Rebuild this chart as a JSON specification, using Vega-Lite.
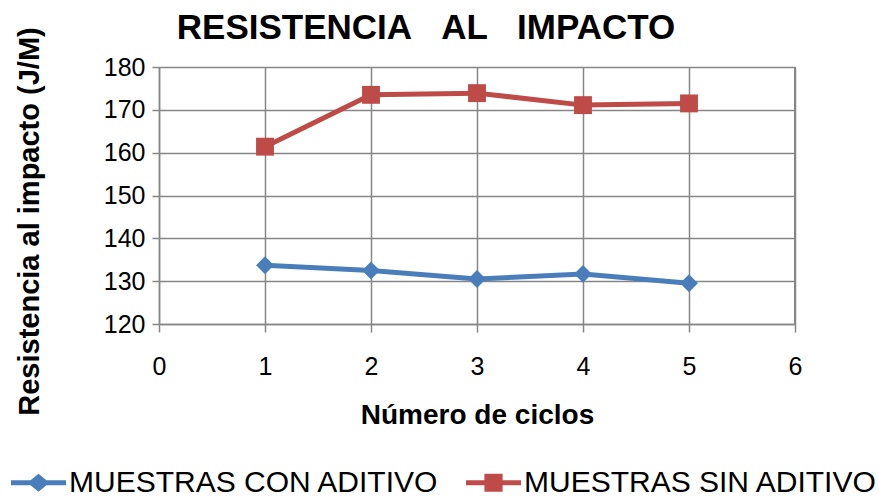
{
  "$schema": "https://vega.github.io/schema/vega-lite/v6.json",
  "width": 636,
  "height": 257,
  "autosize": {"type": "none"},
  "padding": {"left": 159, "top": 67, "right": 84, "bottom": 173},
  "background": "white",
  "config": {
    "font": "Liberation Sans",
    "view": {"stroke": null}
  },
  "title": {
    "text": "RESISTENCIA\u00a0\u00a0\u00a0AL\u00a0\u00a0\u00a0IMPACTO",
    "fontSize": 35,
    "fontWeight": "bold",
    "color": "#000000",
    "anchor": "middle",
    "dx": -51,
    "dy": 32,
    "offset": 13,
    "font": "Liberation Sans"
  },
  "data": {
    "values": [
      {"ciclo": 1, "serie": "MUESTRAS CON ADITIVO", "valor": 133.7},
      {"ciclo": 2, "serie": "MUESTRAS CON ADITIVO", "valor": 132.5},
      {"ciclo": 3, "serie": "MUESTRAS CON ADITIVO", "valor": 130.5},
      {"ciclo": 4, "serie": "MUESTRAS CON ADITIVO", "valor": 131.7},
      {"ciclo": 5, "serie": "MUESTRAS CON ADITIVO", "valor": 129.5},
      {"ciclo": 1, "serie": "MUESTRAS SIN ADITIVO", "valor": 161.4},
      {"ciclo": 2, "serie": "MUESTRAS SIN ADITIVO", "valor": 173.5},
      {"ciclo": 3, "serie": "MUESTRAS SIN ADITIVO", "valor": 173.9},
      {"ciclo": 4, "serie": "MUESTRAS SIN ADITIVO", "valor": 171.1},
      {"ciclo": 5, "serie": "MUESTRAS SIN ADITIVO", "valor": 171.5}
    ]
  },
  "encoding": {
    "x": {
      "field": "ciclo",
      "type": "quantitative",
      "scale": {"domain": [0, 6], "nice": false},
      "axis": {
        "values": [0, 1, 2, 3, 4, 5, 6],
        "labelFlush": false,
        "title": "Número de ciclos",
        "titleFontSize": 28,
        "titleFontWeight": "bold",
        "titleColor": "#000000",
        "titleX": 318,
        "titleY": 99,
        "titleBaseline": "alphabetic",
        "titleAlign": "center",
        "labelFontSize": 25,
        "labelColor": "#000000",
        "labelPadding": 22,
        "tickSize": 8,
        "tickColor": "#868686",
        "tickWidth": 1.5,
        "domainColor": "#868686",
        "domainWidth": 1.5,
        "gridColor": "#868686",
        "gridWidth": 1.5,
        "grid": true
      }
    },
    "y": {
      "field": "valor",
      "type": "quantitative",
      "scale": {"domain": [120, 180], "nice": false, "zero": false},
      "axis": {
        "values": [120, 130, 140, 150, 160, 170, 180],
        "labelFlush": false,
        "title": "Resistencia al impacto (J/M)",
        "titleFontSize": 29,
        "titleFontWeight": "bold",
        "titleColor": "#000000",
        "titleAngle": -90,
        "titleX": -130,
        "titleY": 154,
        "titleBaseline": "middle",
        "titleAlign": "center",
        "labelFontSize": 25,
        "labelColor": "#000000",
        "labelPadding": 7,
        "tickSize": 7,
        "tickColor": "#868686",
        "tickWidth": 1.5,
        "domainColor": "#868686",
        "domainWidth": 1.5,
        "gridColor": "#868686",
        "gridWidth": 1.5,
        "grid": true
      }
    },
    "color": {
      "field": "serie",
      "type": "nominal",
      "scale": {
        "domain": ["MUESTRAS CON ADITIVO", "MUESTRAS SIN ADITIVO"],
        "range": ["#4A7EBB", "#BE4B48"]
      },
      "legend": {
        "title": null,
        "orient": "none",
        "direction": "horizontal",
        "legendX": -148,
        "legendY": 388,
        "padding": 0,
        "labelFontSize": 30,
        "labelColor": "#000000",
        "labelLimit": 600,
        "symbolSize": 3025,
        "symbolStrokeWidth": 0,
        "columnPadding": 26,
        "labelOffset": 3
      }
    }
  },
  "layer": [
    {
      "mark": {"type": "point", "filled": true, "opacity": 1, "size": 0},
      "encoding": {
        "shape": {
          "field": "serie",
          "type": "nominal",
          "scale": {
            "domain": ["MUESTRAS CON ADITIVO", "MUESTRAS SIN ADITIVO"],
            "range": [
              "M-1,-0.09L-0.29,-0.09L0,-0.33L0.29,-0.09L1,-0.09L1,0.09L0.29,0.09L0,0.33L-0.29,0.09L-1,0.09Z",
              "M-1,-0.09L-0.33,-0.09L-0.33,-0.33L0.33,-0.33L0.33,-0.09L1,-0.09L1,0.09L0.33,0.09L0.33,0.33L-0.33,0.33L-0.33,0.09L-1,0.09Z"
            ]
          },
          "legend": {
            "title": null,
            "orient": "none",
            "direction": "horizontal",
            "legendX": -148,
            "legendY": 388,
            "padding": 0,
            "labelFontSize": 30,
            "labelColor": "#000000",
            "labelLimit": 600,
            "symbolSize": 3025,
            "symbolStrokeWidth": 0,
            "columnPadding": 26,
            "labelOffset": 3
          }
        }
      }
    },
    {
      "mark": {"type": "line", "strokeWidth": 5}
    },
    {
      "transform": [{"filter": "datum.serie === 'MUESTRAS CON ADITIVO'"}],
      "mark": {"type": "point", "filled": true, "opacity": 1, "size": 320, "shape": "diamond"}
    },
    {
      "transform": [{"filter": "datum.serie === 'MUESTRAS SIN ADITIVO'"}],
      "mark": {"type": "point", "filled": true, "opacity": 1, "size": 320, "shape": "square"}
    },
    {
      "mark": {"type": "rule", "stroke": "#868686", "strokeWidth": 1.5},
      "encoding": {
        "x": {"datum": 6},
        "y": {"datum": 120},
        "y2": {"datum": 180},
        "color": {"value": "#868686"}
      }
    }
  ]
}
